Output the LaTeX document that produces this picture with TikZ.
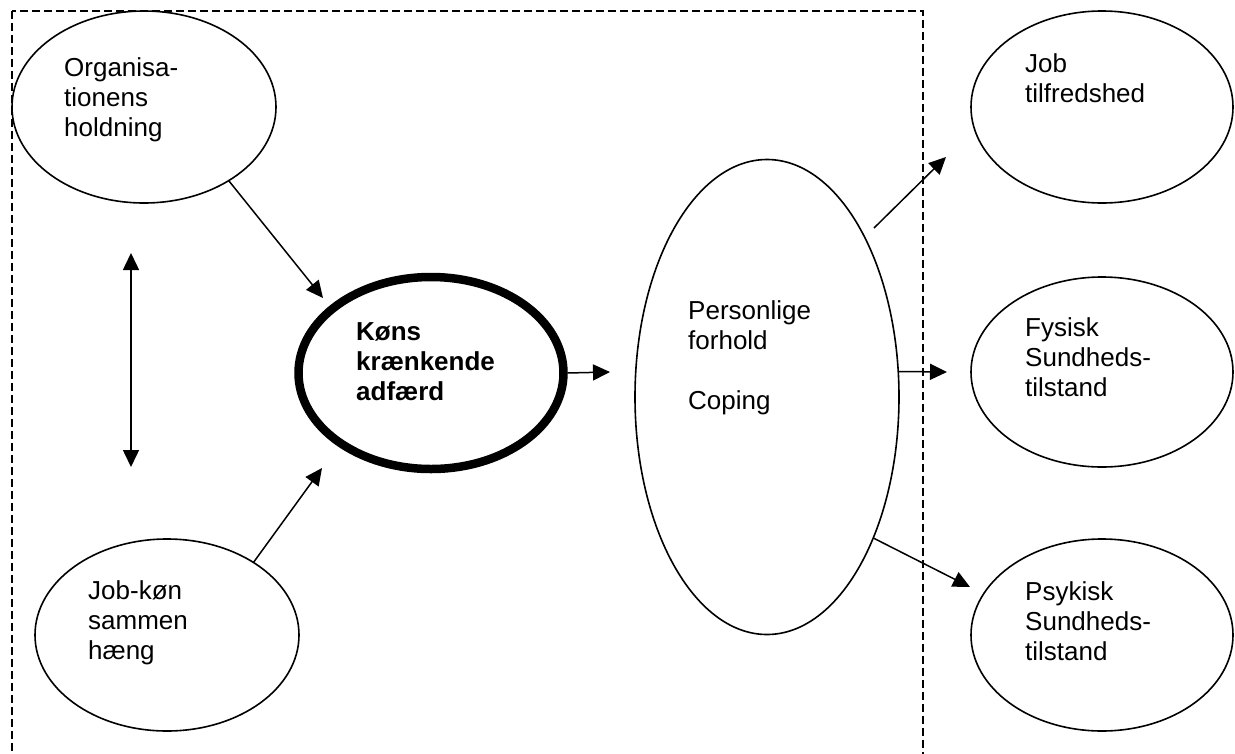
\documentclass[tikz,border=0pt]{standalone}
\usepackage{fontspec}
\setmainfont{Liberation Sans}
\usetikzlibrary{shapes.geometric,arrows.meta}
\tikzset{
  bubble/.style={draw, ellipse, line width=1.6pt, inner sep=0pt, outer sep=0pt},
  lbl/.style={anchor=base west, align=left, inner sep=0pt, font=\fontsize{26pt}{30pt}\selectfont},
  tip/.tip={Triangle[length=17pt,width=16pt]},
  arr/.style={line width=1.5pt, -tip},
  darr/.style={line width=1.5pt, tip-tip},
  frame/.style={line width=1.3pt, dash pattern=on 8pt off 4pt}
}
\begin{document}
\begin{tikzpicture}[x=1pt,y=-1pt]
\useasboundingbox (0,0) rectangle (1235,753);
\begin{scope}
\clip (0,0) rectangle (1235,753);
\draw[frame] (12,11) rectangle (923,800);
\end{scope}

% ellipses
\node[bubble, minimum width=264pt, minimum height=192pt] (org) at (144,107) {};
\node[bubble, minimum width=264pt, minimum height=192pt] (jk) at (167,635) {};
\node[bubble, line width=8.5pt, minimum width=265pt, minimum height=192pt] (kons) at (431,373) {};
\node[bubble, minimum width=264pt, minimum height=475pt] (pers) at (767,397) {};
\node[bubble, minimum width=262pt, minimum height=192pt] (job) at (1102,107) {};
\node[bubble, minimum width=262pt, minimum height=190pt] (fys) at (1102,372) {};
\node[bubble, minimum width=262pt, minimum height=192pt] (psy) at (1102,635) {};

% texts (anchored at the baseline of the last line)
\node[lbl] (torg) at (64,136) {Organisa-\\tionens\\holdning};
\node[lbl] (tjk) at (88,659) {Job-køn\\sammen\\hæng};
\node[lbl, font=\fontsize{26pt}{30pt}\selectfont\bfseries] (tkons) at (356,400) {Køns\\krænkende\\adfærd};
\node[lbl] (tpers) at (688,409) {Personlige\\forhold\\[30pt]Coping};
\node[lbl] (tjob) at (1025,102) {Job\\tilfredshed};
\node[lbl] (tfys) at (1025,396) {Fysisk\\Sundheds-\\tilstand};
\node[lbl] (tpsy) at (1025,660) {Psykisk\\Sundheds-\\tilstand};

% connector end points
\coordinate (t1) at (323,298);
\coordinate (t2) at (322,468);
\coordinate (d1) at (131,253);
\coordinate (d2) at (131,467);
\coordinate (t3) at (610,372);
\coordinate (s4) at (874,228);
\coordinate (t4) at (946,157);
\coordinate (t5) at (947,372);
\coordinate (t6) at (970,587);

% connectors
\draw[arr] (org.-41) -- (t1);
\draw[arr] (jk.40) -- (t2);
\draw[darr] (d1) -- (d2);
\draw[arr] (kons.east) ++(4,0) coordinate (s3) -- (t3);
\draw[arr] (s4) -- (t4);
\draw[arr] (pers.11) -- (t5);
\draw[arr] (pers.-53) -- (t6);
\end{tikzpicture}
\end{document}
